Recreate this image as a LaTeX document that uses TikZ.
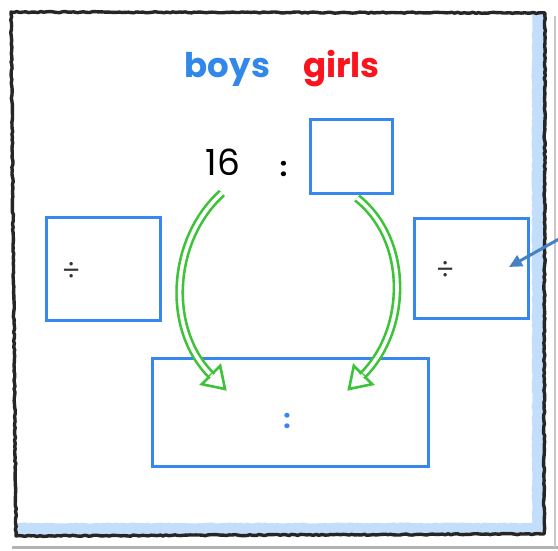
\documentclass[tikz,border=0pt]{standalone}
\usepackage{fontspec}
\setmainfont{Poppins}
\usetikzlibrary{decorations.pathmorphing,arrows.meta,backgrounds}
\definecolor{boxblue}{RGB}{55,135,240}
\definecolor{boyblue}{RGB}{50,135,235}
\definecolor{girlred}{RGB}{250,20,30}
\definecolor{arrgreen}{RGB}{60,195,55}
\definecolor{bandblue}{RGB}{195,222,250}
\definecolor{pointer}{RGB}{70,130,195}
\begin{document}
\begin{tikzpicture}[x=1pt,y=-1pt,
  ansbox/.style={draw=boxblue, line width=3pt, fill=white, inner sep=0pt},
  cardshadow/.style={fill=black!13},
  hollow/.style={draw=arrgreen, line width=2.6pt, double=white, double distance=3.6pt},
  headtri/.style={fill=white, draw=arrgreen, line width=2.6pt, line join=miter},
  sketch/.style={decorate, decoration={random steps, segment length=3pt, amplitude=0.6pt}},
  big/.style={font=\fontsize{34}{34}\selectfont\bfseries},
  num/.style={font=\fontsize{36}{36}\selectfont},
  colonf/.style={font=\fontsize{26}{26}\selectfont\bfseries},
  divf/.style={font=\fontsize{28}{28}\selectfont}]
% canvas
\useasboundingbox (0,0) rectangle (558,550);
\fill[white] (0,0) rectangle (558,550);
% outer shadows
\draw[black!30, line width=3pt] (12,547) -- (558,547);
\draw[black!22, line width=2pt] (555,16) -- (555,547);
% blue band
\fill[bandblue, sketch] (532,14) -- (545,14) -- (544,534) -- (16,536) -- (16,523) -- (532,523) -- cycle;
% frame
\draw[black!85, line width=3.4pt, sketch, line join=round] (11,12) -- (545,13) -- (544,534) -- (16,536) -- cycle;

% texts
\node[big, text=boyblue, anchor=base] (boys) at (227.5,77) {boys};
\node[big, text=girlred, anchor=base] (girls) at (341.5,77) {girls};
\node[num, anchor=base] (sixteen) at (223,175) {16};
\node[colonf, anchor=base] (colon1) at (283.5,176) {:};

% boxes
\node[ansbox, minimum width=82pt, minimum height=74pt] (girlbox) at (351,156) {};
\node[ansbox, minimum width=114pt, minimum height=103pt] (leftbox) at (103,268.5) {};
\node[ansbox, minimum width=114pt, minimum height=100pt] (rightbox) at (471,268) {};
\node[ansbox, minimum width=276pt, minimum height=108pt] (bottombox) at (290,412) {};
\node[divf, text=black!80] (ldiv) at (71,271) {÷};
\node[divf, text=black!80] (rdiv) at (445,270) {÷};
\node[colonf, text=boxblue, anchor=base] (colon2) at (287,428) {:};

% card shadows
\begin{scope}[on background layer]
\foreach \b in {girlbox,leftbox,rightbox,bottombox}{
  \fill[cardshadow] ([xshift=-4pt,yshift=3pt]\b.north west) rectangle ([xshift=4pt,yshift=-8pt]\b.south east);
}
\end{scope}

% green arrows
\coordinate (ls) at (222,193);
\coordinate (le) at (212,376);
\coordinate (rs) at (357,198);
\coordinate (re) at (362,376);
\draw[hollow] (ls) .. controls (170,240) and (165,330) .. (le);
\filldraw[headtri] (220.2,365.8) -- (225,389) -- (201.8,384.2) -- cycle;
\draw[hollow] (211,375) -- (le);
\draw[hollow] (rs) .. controls (410,240) and (409,330) .. (re);
\filldraw[headtri] (353.8,365.8) -- (349,389) -- (372.2,384.2) -- cycle;
\draw[hollow] (363,375) -- (re);

% pointer arrow
\coordinate (pstart) at (559,239);
\coordinate (ptip) at (509,267);
\draw[pointer, line width=3pt, -{Triangle[length=13pt,width=12pt]}] (pstart) -- (ptip);
\end{tikzpicture}
\end{document}
